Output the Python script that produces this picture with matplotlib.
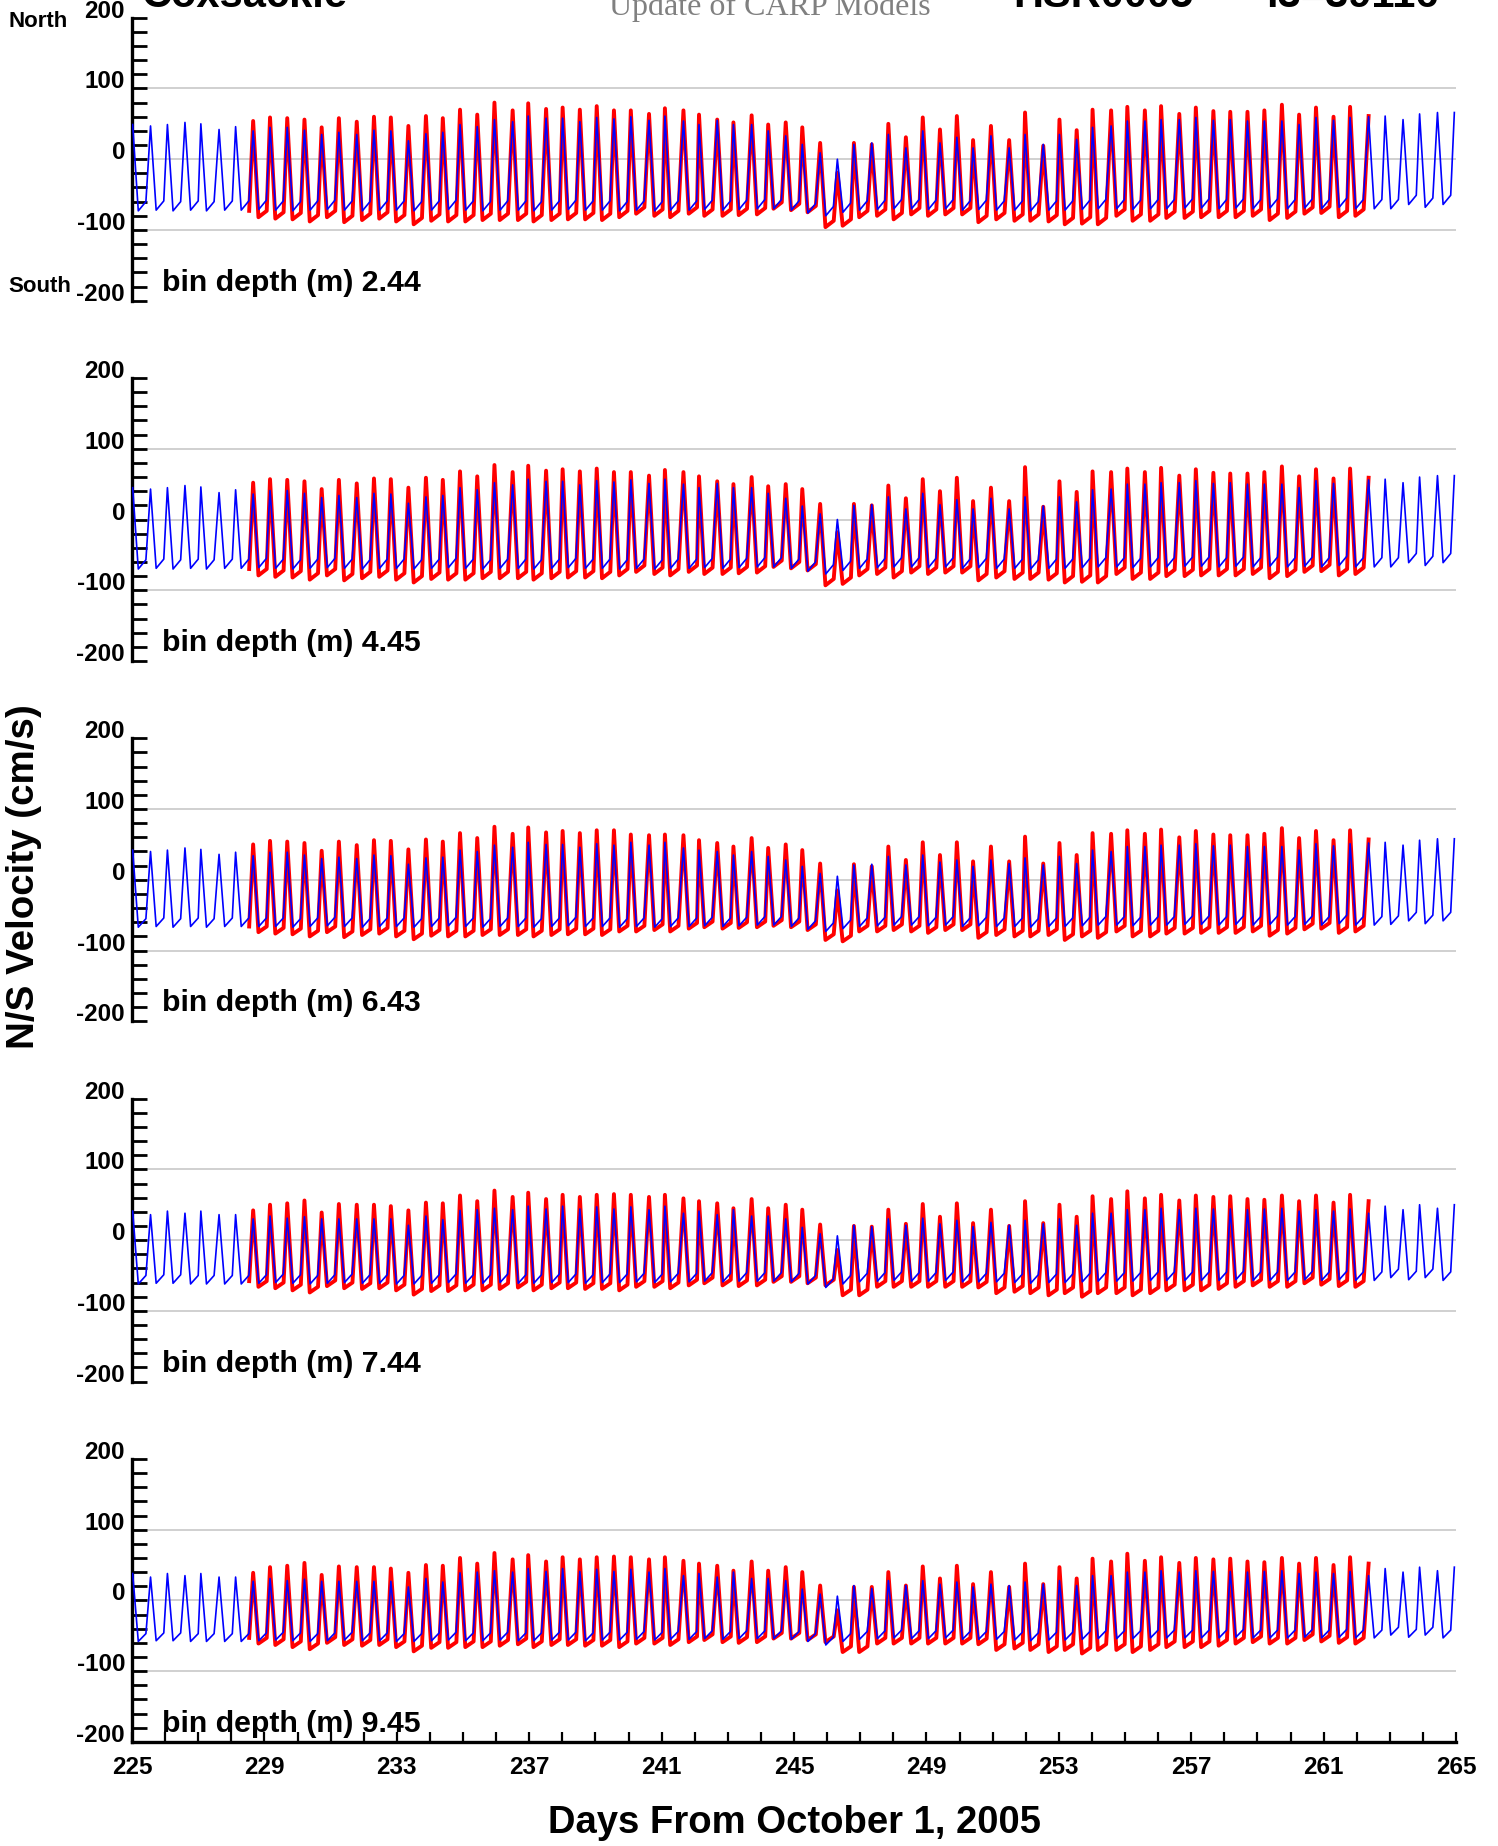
import matplotlib
matplotlib.use("Agg")
import matplotlib.pyplot as plt
from matplotlib.ticker import MultipleLocator

# times of the flood peaks (days from Oct 1, 2005)
peak_day = [225.02, 225.56, 226.07, 226.60, 227.08, 227.63, 228.13,
            228.66, 229.17, 229.69, 230.21, 230.73, 231.25, 231.79, 232.31, 232.82, 233.35,
            233.88, 234.39, 234.91, 235.43, 235.95, 236.50, 236.97, 237.51, 238.01, 238.53,
            239.04, 239.56,
            240.07, 240.62, 241.10, 241.66, 242.13, 242.68, 243.17, 243.72, 244.22, 244.75,
            245.25, 245.79, 246.31, 246.81, 247.35, 247.85, 248.38, 248.89, 249.41, 249.92,
            250.41, 250.95, 251.50, 251.98, 252.53, 253.02, 253.54, 254.02,
            254.58, 255.07, 255.60, 256.09, 256.64, 257.14, 257.67, 258.18, 258.70, 259.21,
            259.74, 260.26, 260.77, 261.30, 261.80, 262.36,
            262.86, 263.40, 263.90, 264.44, 264.95]
red_first = 7    # observations start with this peak
red_last = 72    # ... and end with this one

depths = [2.44, 4.45, 6.43, 7.44, 9.45]

# ---- bin 1 (2.44 m) ----
# model (blue): peak and trough per tidal cycle
blue_hi_1 = [49, 47, 49, 52, 50, 42, 46,
             40, 45, 45, 41, 35, 38, 35, 41, 40, 26, 36, 38, 49, 46, 56, 53, 61, 58, 58, 53, 59, 57,
             60, 55, 61, 54, 49, 55, 49, 49, 40, 33, 21, 9, 0, 21, 23, 35, 16, 40, 23, 31, 16, 33,
             16, 35, 21, 35, 28, 45,
             47, 54, 54, 56, 56, 59, 55, 56, 54, 54, 54, 49, 59, 55, 59, 60,
             61, 56, 64, 66, 66]
blue_lo_1 = [-73, -72, -73, -72, -73, -72, -72,
             -71, -72, -73, -72, -71, -72, -73, -72, -72, -73, -72, -71, -72, -73, -72, -72, -73,
             -72, -71, -72, -72, -73,
             -72, -73, -72, -72, -71, -72, -71, -70, -70, -72, -76, -80, -75, -72, -71, -70, -70,
             -71, -70, -72, -71, -72, -72, -73, -72, -72, -71, -70,
             -70, -71, -70, -70, -69, -69, -70, -69, -70, -69, -70, -69, -70, -68, -70, -70,
             -70, -64, -68, -64, -63]
# observations (red): peak and trough per tidal cycle
red_hi_1 = [54, 59, 58, 56, 45, 58, 53, 60, 59, 47, 61, 58, 70, 63, 80, 69, 79, 71, 73, 70, 75, 69,
            69, 64, 72, 69, 63, 56, 52, 62, 49, 52, 45, 23, -19, 23, 21, 50, 31, 59, 42, 61, 27,
            47, 27, 66, 19, 56, 41, 70,
            69, 74, 69, 75, 64, 73, 68, 67, 67, 69, 77, 63, 73, 60, 74, 61]
red_lo_1 = [-82, -84, -85, -88, -82, -89, -86, -84, -88, -92, -87, -88, -88, -86, -86, -86, -88,
            -86, -85, -85, -86, -82,
            -77, -80, -82, -77, -80, -80, -79, -78, -70, -72, -75, -96, -94, -82, -80, -85, -78,
            -80, -78, -78, -89, -85, -87, -87, -88, -92, -91, -92,
            -80, -87, -87, -83, -83, -82, -82, -82, -80, -86, -83, -77, -76, -82, -80, -75]

# ---- bin 2 (4.45 m) ----
blue_hi_2 = [45, 43, 45, 48, 46, 38, 42,
             36, 41, 41, 37, 31, 34, 31, 37, 36, 23, 32, 34, 45, 42, 52, 49, 57, 54, 54, 49, 55, 53,
             56, 51, 57, 50, 45, 51, 45, 45, 37, 30, 19, 8, 0, 20, 21, 32, 15, 37, 21, 28, 15, 30,
             15, 32, 19, 32, 25, 42,
             43, 50, 50, 52, 52, 55, 51, 52, 50, 50, 50, 45, 55, 51, 55, 56,
             57, 52, 60, 62, 62]
blue_lo_2 = [-70, -69, -70, -69, -70, -69, -69,
             -68, -69, -70, -69, -68, -69, -70, -69, -69, -70, -69, -68, -69, -70, -69, -69, -70,
             -69, -68, -69, -69, -70,
             -69, -70, -69, -69, -68, -69, -68, -67, -67, -69, -73, -77, -72, -69, -68, -67, -67,
             -68, -67, -69, -68, -69, -69, -70, -69, -69, -68, -67,
             -67, -68, -67, -67, -66, -66, -67, -66, -67, -66, -67, -66, -67, -65, -67, -67,
             -67, -61, -65, -61, -60]
red_hi_2 = [52, 57, 56, 54, 43, 56, 51, 58, 57, 45, 59, 56, 68, 61, 77, 67, 76, 69, 71, 68, 72, 67,
            67, 62, 70, 67, 61, 54, 50, 60, 47, 50, 43, 22, -18, 22, 20, 48, 30, 57, 40, 59, 26,
            45, 26, 74, 18, 54, 39, 68,
            67, 72, 67, 73, 62, 71, 66, 65, 65, 67, 75, 61, 71, 58, 72, 59]
red_lo_2 = [-79, -81, -82, -85, -79, -86, -83, -81, -85, -89, -84, -85, -85, -83, -83, -83, -85,
            -83, -82, -82, -83, -79,
            -74, -77, -79, -74, -77, -77, -76, -75, -67, -69, -72, -93, -91, -79, -77, -82, -75,
            -77, -75, -75, -86, -82, -84, -84, -85, -89, -88, -89,
            -77, -84, -84, -80, -80, -79, -79, -79, -77, -83, -80, -74, -73, -79, -77, -72]

# ---- bin 3 (6.43 m) ----
blue_hi_3 = [42, 40, 42, 45, 43, 36, 39,
             34, 39, 39, 35, 30, 32, 30, 35, 34, 22, 31, 32, 42, 40, 49, 46, 53, 50, 50, 46, 51,
             49, 53, 49, 53, 45, 42, 40, 35, 40, 33, 28, 19, 9, 5, 21, 22, 33, 21, 35, 25, 28, 19,
             28, 23, 31, 21, 33, 23, 42,
             40, 47, 47, 49, 49, 51, 48, 49, 47, 47, 47, 42, 51, 48, 51, 52,
             53, 49, 56, 58, 58]
blue_lo_3 = [-67, -66, -67, -66, -67, -66, -66,
             -66, -66, -67, -66, -65, -66, -67, -66, -66, -67, -66, -65, -66, -67, -66, -66, -67,
             -66, -65, -66, -66,
             -67, -66, -67, -66, -66, -65, -66, -65, -64, -64, -66, -70, -73, -69, -66, -65, -64,
             -64, -65, -64, -66, -65, -66, -66, -67, -66, -66, -65, -64,
             -64, -65, -64, -64, -63, -63, -64, -63, -64, -63, -64, -63, -64, -62, -64, -64,
             -63, -58, -62, -58, -57]
red_hi_3 = [50, 55, 54, 52, 41, 54, 49, 56, 55, 43, 57, 54, 66, 59, 75, 65, 74, 67, 69, 66, 70,
            70, 64, 63, 64, 63, 56, 52, 47, 59, 45, 50, 42, 23, -15, 22, 19, 47, 28, 53, 35, 53,
            26, 47, 26, 61, 23, 52, 35, 66,
            65, 70, 65, 71, 60, 69, 64, 63, 63, 65, 73, 59, 69, 56, 70, 57]
red_lo_3 = [-74, -76, -77, -80, -74, -81, -78, -76, -80, -84, -79, -80, -80, -78, -78, -78, -80,
            -78, -77, -77, -78,
            -73, -73, -71, -73, -69, -67, -69, -68, -67, -65, -67, -71, -85, -87, -73, -73, -71,
            -73, -75, -71, -71, -82, -78, -80, -80, -78, -85, -80, -82,
            -73, -80, -80, -76, -76, -75, -75, -75, -73, -79, -76, -70, -69, -75, -73, -68]

# ---- bin 4 (7.44 m) ----
blue_hi_4 = [41, 36, 41, 38, 41, 36, 36,
             30, 34, 31, 33, 30, 30, 30, 30, 30, 21, 34, 29, 42, 43, 45, 43, 48, 44, 48, 44, 47, 44,
             47, 43, 48, 38, 41, 36, 43, 34, 34, 30, 18, 9, 6, 21, 19, 30, 21, 31, 23, 28, 19, 25,
             21, 28, 23, 30, 21, 38,
             38, 43, 43, 45, 43, 45, 44, 44, 43, 44, 45, 41, 43, 41, 44, 38,
             48, 43, 50, 45, 50]
blue_lo_4 = [-62, -61, -61, -62, -62, -62, -62,
             -61, -60, -61, -62, -61, -60, -61, -61, -62, -62, -61, -60, -61, -61, -60, -61, -61,
             -60, -60, -61, -60, -60,
             -59, -60, -59, -59, -58, -59, -58, -58, -58, -59, -62, -67, -62, -59, -58, -57, -58,
             -58, -57, -59, -59, -59, -60, -61, -60, -60, -59, -58,
             -58, -58, -57, -57, -57, -57, -57, -56, -57, -57, -57, -56, -57, -56, -57, -57,
             -53, -56, -53, -57, -54]
red_hi_4 = [42, 50, 52, 56, 39, 51, 50, 50, 48, 42, 53, 52, 63, 55, 70, 61, 67, 58, 64, 61, 64, 65,
            64, 61, 64, 59, 55, 52, 45, 58, 45, 50, 43, 22, -14, 20, 19, 43, 23, 51, 33, 52, 24,
            43, 20, 55, 24, 50, 33, 62,
            58, 69, 59, 64, 56, 63, 61, 62, 58, 57, 63, 55, 63, 53, 64, 55]
red_lo_4 = [-66, -68, -71, -74, -65, -68, -69, -68, -71, -77, -72, -72, -71, -71, -69, -67, -71,
            -68, -68, -69, -69, -71,
            -66, -66, -68, -64, -61, -64, -65, -64, -59, -59, -61, -64, -78, -78, -66, -66, -66,
            -66, -66, -66, -67, -75, -73, -75, -78, -75, -80, -75,
            -75, -78, -75, -71, -71, -71, -69, -66, -64, -66, -66, -61, -63, -65, -66, -61]

# ---- bin 5 (9.45 m) ----
blue_hi_5 = [38, 33, 38, 35, 38, 33, 33,
             27, 31, 28, 30, 27, 27, 27, 27, 27, 19, 31, 26, 39, 40, 42, 40, 45, 41, 45, 41, 44, 41,
             44, 40, 45, 35, 38, 33, 40, 31, 31, 28, 16, 9, 6, 21, 17, 28, 21, 28, 23, 26, 19, 23,
             21, 26, 23, 28, 21, 35,
             35, 40, 40, 42, 40, 42, 41, 41, 40, 41, 42, 38, 40, 38, 41, 35,
             45, 40, 47, 42, 47]
blue_lo_5 = [-58, -57, -57, -58, -58, -58, -58,
             -57, -56, -57, -58, -57, -56, -57, -57, -58, -58, -57, -56, -57, -57, -56, -57, -57,
             -56, -56, -57, -56, -56,
             -55, -56, -55, -55, -54, -55, -54, -54, -54, -55, -58, -63, -58, -55, -54, -53, -54,
             -54, -53, -55, -55, -55, -56, -57, -56, -56, -55, -54,
             -54, -54, -53, -53, -53, -53, -53, -52, -53, -53, -53, -52, -53, -52, -53, -53,
             -49, -52, -49, -53, -50]
red_hi_5 = [39, 47, 49, 53, 36, 48, 47, 47, 45, 39, 50, 49, 60, 52, 67, 58, 64, 55, 61, 58, 61, 62,
            61, 58, 61, 56, 52, 49, 42, 55, 42, 47, 40, 21, -14, 19, 19, 40, 21, 48, 31, 49, 23,
            40, 19, 52, 23, 47, 31, 59,
            55, 66, 56, 61, 53, 60, 58, 59, 55, 54, 60, 52, 60, 50, 61, 52]
red_lo_5 = [-61, -63, -66, -69, -60, -63, -64, -63, -66, -72, -67, -67, -66, -66, -64, -62, -66,
            -63, -63, -64, -64, -66,
            -61, -61, -63, -59, -56, -59, -60, -59, -54, -54, -56, -59, -73, -73, -61, -61, -61,
            -61, -61, -61, -62, -70, -68, -70, -73, -70, -75, -70,
            -70, -73, -70, -66, -66, -66, -64, -61, -59, -61, -61, -56, -58, -60, -61, -56]

# slow rise during ebb before the flood turns, per panel
blue_rise = [13, 13, 12, 12, 11]
red_rise = [9, 9, 8, 8, 8]

panels = [
    (blue_hi_1, blue_lo_1, red_hi_1, red_lo_1),
    (blue_hi_2, blue_lo_2, red_hi_2, red_lo_2),
    (blue_hi_3, blue_lo_3, red_hi_3, red_lo_3),
    (blue_hi_4, blue_lo_4, red_hi_4, red_lo_4),
    (blue_hi_5, blue_lo_5, red_hi_5, red_lo_5),
]


def tide_line(days, hi, lo, rise, t_low=0.17, t_turn=0.40):
    # peak -> fast drop to trough -> slow ebb -> steep flood to next peak
    xs, ys = [], []
    for i, (d, h, l) in enumerate(zip(days, hi, lo)):
        xs.append(d)
        ys.append(h)
        if i < len(days) - 1:
            xs += [d + t_low, d + t_turn]
            ys += [l, l + rise]
    return xs, ys


plt.rcParams["font.family"] = ["Liberation Sans", "DejaVu Sans"]
plt.rcParams["axes.unicode_minus"] = False

W, H = 1498, 1846
fig = plt.figure(figsize=(W / 100, H / 100), dpi=100)

left, width, height = 132, 1324, 283
for k, (bh, bl, rh, rl) in enumerate(panels):
    top = 17.7 + 360.3 * k
    ax = fig.add_axes([left / W, 1 - (top + height) / H, width / W, height / H])
    ax.set_xlim(225, 265)
    ax.set_ylim(-200, 200)
    for g in (-100, 0, 100):
        ax.axhline(g, color="#c8c8c8", lw=1.2, zorder=0)

    red_days = peak_day[red_first:red_last + 1]
    rx, ry = tide_line(red_days, rh, rl, red_rise[k], t_low=0.16, t_turn=0.41)
    rx.insert(0, red_days[0] - 0.12)
    ry.insert(0, rl[0] + red_rise[k])
    ax.plot(rx, ry, color="#ff0000", lw=2.8, zorder=2, solid_joinstyle="round")

    bx, by = tide_line(peak_day, bh, bl, blue_rise[k])
    ax.plot(bx, by, color="#0000ff", lw=1.2, zorder=3)

    for s in ("top", "right"):
        ax.spines[s].set_visible(False)
    ax.spines["left"].set_linewidth(2.4)
    ax.set_yticks([-200, -100, 0, 100, 200])
    ax.yaxis.set_minor_locator(MultipleLocator(20))
    ax.tick_params(axis="y", which="both", direction="in", length=11, width=2,
                   pad=5, labelsize=17.5)
    for lbl in ax.get_yticklabels():
        lbl.set_fontweight("bold")
        lbl.set_verticalalignment("baseline")

    if k < 4:
        ax.spines["bottom"].set_visible(False)
        ax.set_xticks([])
    else:
        ax.spines["bottom"].set_linewidth(2.4)
        ax.set_xticks(range(225, 266, 4))
        ax.xaxis.set_minor_locator(MultipleLocator(1))
        ax.tick_params(axis="x", which="both", direction="in", length=7, width=1.6,
                       pad=10, labelsize=17.5)
        for lbl in ax.get_xticklabels():
            lbl.set_fontweight("bold")

    ax.text(0.0227, 0.035, f"bin depth (m) {depths[k]:.2f}", transform=ax.transAxes,
            fontsize=21.8, fontweight="bold", va="baseline", ha="left", zorder=5)

fig.text(8 / W, 1 - 27 / H, "North", fontsize=16, fontweight="bold", va="baseline")
fig.text(8 / W, 1 - 292 / H, "South", fontsize=16, fontweight="bold", va="baseline")

fig.text(24 / W, 1 - 877 / H, "N/S Velocity (cm/s)", rotation=90, ha="center", va="center",
         fontsize=27.7, fontweight="bold")
fig.text(794 / W, 1 - 1823 / H, "Days From October 1, 2005", ha="center", va="center",
         fontsize=27.5, fontweight="bold")

# header line, cut by the top edge as in the original
fig.text(141 / W, 1 - 7 / H, "Coxsackie", fontsize=30, fontweight="bold", va="baseline")
fig.text(609 / W, 1 - 15 / H, "Update of CARP Models", fontsize=23, color="#808080",
         family="Liberation Serif", va="baseline")
fig.text(1013 / W, 1 - 7 / H, "HSR0005", fontsize=30, fontweight="bold", va="baseline")
fig.text(1266 / W, 1 - 7 / H, "i3=39116", fontsize=30, fontweight="bold", va="baseline")

fig.savefig("out.png", dpi=100)
